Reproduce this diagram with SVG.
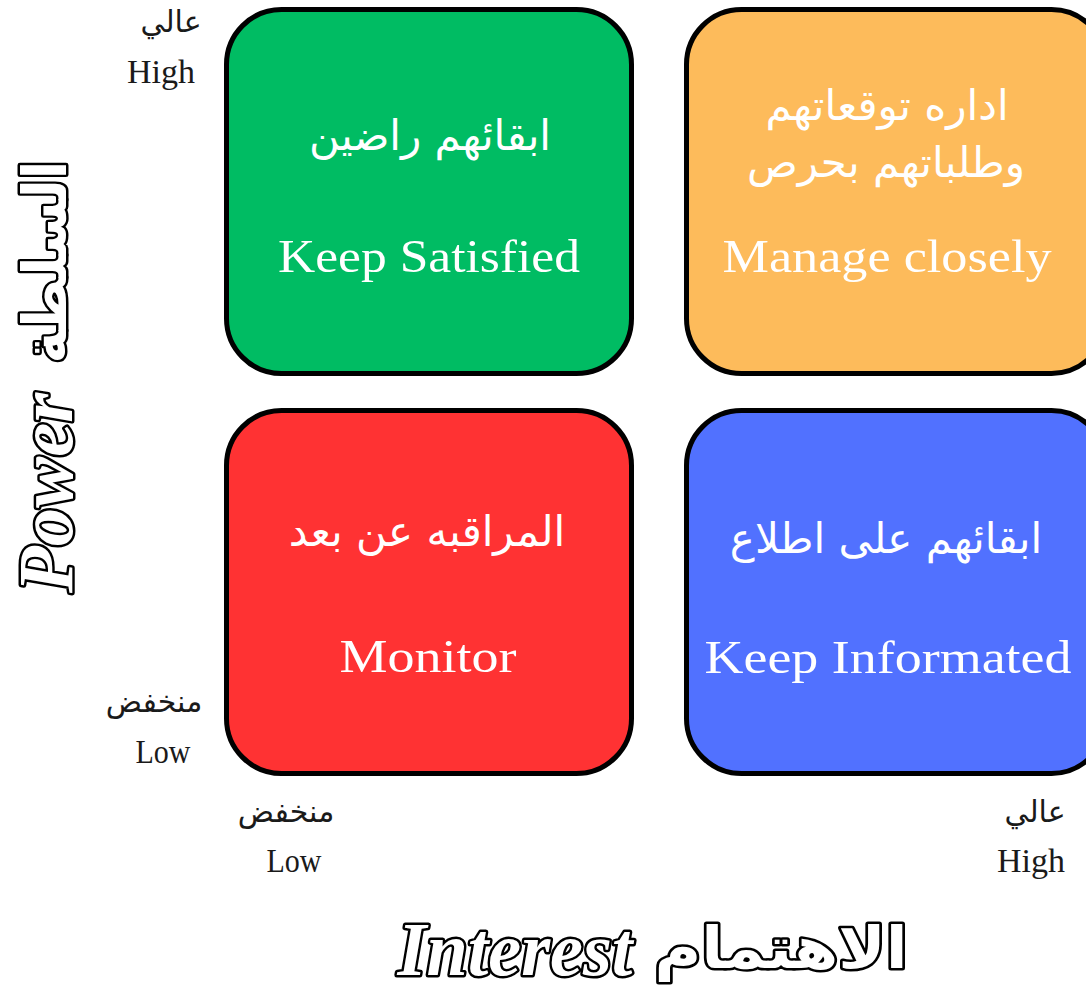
<svg xmlns="http://www.w3.org/2000/svg" width="1086" height="1005" viewBox="0 0 1086 1005">
<style>
.box{stroke:#000;stroke-width:5}
.en{font-family:"Liberation Serif","DejaVu Serif",serif;fill:#fff;text-anchor:middle}
.ar{font-family:"DejaVu Sans","Noto Sans",sans-serif;fill:#fff;text-anchor:middle;font-size:42px}
.lab{font-family:"Liberation Serif","DejaVu Serif",serif;fill:#1a1a1a;text-anchor:middle;font-size:34px}
.labar{font-family:"DejaVu Sans",sans-serif;fill:#1a1a1a;text-anchor:middle;font-size:30px}
.axis{fill:#fff;stroke:#000;stroke-width:5;stroke-linejoin:round;paint-order:stroke;text-anchor:middle}
.axen{font-family:"Liberation Serif","DejaVu Serif",serif;font-style:italic;font-weight:bold}
.axar{font-family:"DejaVu Sans",sans-serif;font-weight:bold}
</style>
<rect width="1086" height="1005" fill="#fff"/>
<g id="keep-satisfied">
<rect class="box" x="226.5" y="9.5" width="405" height="364" rx="55" fill="#00BC63"/>
<text class="ar" x="430" y="150">ابقائهم راضين</text>
<text class="en" x="429" y="272" font-size="46" textLength="302" lengthAdjust="spacingAndGlyphs">Keep Satisfied</text>
</g>
<g id="manage-closely">
<rect class="box" x="686.5" y="9.5" width="420" height="364" rx="55" fill="#FDBB5B"/>
<text class="ar" x="887" y="120">اداره توقعاتهم</text>
<text class="ar" x="886" y="177">وطلباتهم بحرص</text>
<text class="en" x="887" y="272" font-size="46" textLength="329" lengthAdjust="spacingAndGlyphs">Manage closely</text>
</g>
<g id="monitor">
<rect class="box" x="226.5" y="410.5" width="405" height="363" rx="55" fill="#FF3233"/>
<text class="ar" x="427" y="546">المراقبه عن بعد</text>
<text class="en" x="428" y="672" font-size="46" textLength="177" lengthAdjust="spacingAndGlyphs">Monitor</text>
</g>
<g id="keep-informated">
<rect class="box" x="686.5" y="410.5" width="420" height="363" rx="55" fill="#5171FF"/>
<text class="ar" x="886" y="553" font-size="44">ابقائهم على اطلاع</text>
<text class="en" x="888" y="673" font-size="46" textLength="367" lengthAdjust="spacingAndGlyphs">Keep Informated</text>
</g>
<g id="labels">
<text class="labar" x="171" y="32">عالي</text>
<text class="lab" x="161" y="83">High</text>
<text class="labar" x="154" y="712">منخفض</text>
<text class="lab" x="163" y="763" textLength="55" lengthAdjust="spacingAndGlyphs">Low</text>
<text class="labar" x="286" y="822">منخفض</text>
<text class="lab" x="294" y="872" textLength="55" lengthAdjust="spacingAndGlyphs">Low</text>
<text class="labar" x="1035" y="822">عالي</text>
<text class="lab" x="1031" y="872">High</text>
</g>
<g id="axis-power" transform="translate(72,0) rotate(-90)">
<text class="axis axen" x="-493" y="0" font-size="78" textLength="200" lengthAdjust="spacingAndGlyphs">Power</text>
<text class="axis axar" x="-262" y="-6" font-size="60" textLength="203" lengthAdjust="spacingAndGlyphs">السلطة</text>
</g>
<g id="axis-interest">
<text class="axis axen" x="515" y="975" font-size="76" textLength="235" lengthAdjust="spacingAndGlyphs">Interest</text>
<text class="axis axar" x="781" y="968" font-size="58" textLength="253" lengthAdjust="spacingAndGlyphs">الاهتمام</text>
</g>
</svg>
